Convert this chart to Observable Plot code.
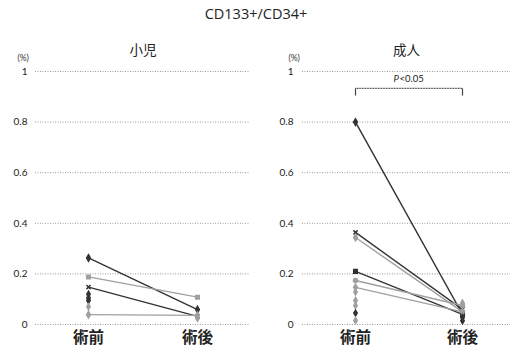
<!DOCTYPE html>
<html><head><meta charset="utf-8">
<script src="https://cdn.jsdelivr.net/npm/d3@7"></script>
<script src="https://cdn.jsdelivr.net/npm/@observablehq/plot@0.6"></script>
<style>
body{margin:0;background:#fff;width:512px;height:353px;overflow:hidden;font-family:Lato,"Noto Sans CJK JP",sans-serif;}
#title{height:28px;line-height:28px;text-align:center;font-size:14.5px;color:#222;font-family:"Open Sans","Noto Sans CJK JP",sans-serif;}
#row{display:flex;}
</style></head>
<body>
<div id="title">CD133+/CD34+</div>
<div id="row"></div>
<script>
const cats = ["術前", "術後"];
const yTicks = [0, 0.2, 0.4, 0.6, 0.8, 1];

// 小児 (children)
const childPre  = [0.263, 0.188, 0.148, 0.039];
const childPost = [0.059, 0.108, 0.032, 0.036];
const childTone = ["dark", "gray", "dark", "gray"];
const childSym  = ["diamond", "square", "times", "diamond"];
const childPreOnly  = [0.12, 0.105, 0.095, 0.07];
const childPreOnlyTone = ["dark", "dark", "dark", "gray"];
const childPostOnly = [0.025];
const childPostOnlyTone = ["gray"];

// 成人 (adults)
const adultPre  = [0.80, 0.364, 0.344, 0.21, 0.174, 0.147];
const adultPost = [0.040, 0.060, 0.050, 0.040, 0.075, 0.050];
const adultTone = ["dark", "dark", "gray", "dark", "gray", "gray"];
const adultSym  = ["diamond", "times", "diamond", "square", "circle", "diamond"];
const adultPreOnly  = [0.128, 0.095, 0.075, 0.045, 0.016];
const adultPreOnlyTone = ["gray", "gray", "gray", "dark", "gray"];
const adultPostOnly = [0.085, 0.028, 0.015];
const adultPostOnlyTone = ["gray", "dark", "dark"];

const sig = {label: "P<0.05", y: 0.933, tickEnd: 0.905, textY: 0.972};

const toneColor = {dark: "#333", gray: "#a0a0a0"};

function panel(name, pre, post, tone, sym, preOnly, preOnlyTone, postOnly, postOnlyTone, o) {
  const pts = [];
  pre.forEach((v, i) => {
    pts.push({id: i, x: cats[0], y: v, c: toneColor[tone[i]], s: sym[i]});
    pts.push({id: i, x: cats[1], y: post[i], c: toneColor[tone[i]], s: sym[i]});
  });
  const singles = [
    ...preOnly.map((v, i) => ({x: cats[0], y: v, c: toneColor[preOnlyTone[i]]})),
    ...postOnly.map((v, i) => ({x: cats[1], y: v, c: toneColor[postOnlyTone[i]]}))
  ];
  const marks = [
    Plot.ruleY(yTicks, {stroke: "#9a9a9a", strokeDasharray: "1,1.5", strokeWidth: 1}),
    Plot.ruleX([0], {x: () => null, frameAnchor: "left", stroke: "#9a9a9a", strokeDasharray: "1,1.5"}),
    Plot.line(pts, {x: "x", y: "y", z: "id", stroke: "c", strokeWidth: 1.4}),
    Plot.dot(pts, {x: "x", y: "y", fill: "c", stroke: "c", symbol: "s", r: 2}),
    Plot.dot(singles, {x: "x", y: "y", fill: "c", stroke: "c", symbol: "diamond", r: 1.8}),
    Plot.text([name], {text: d => d, frameAnchor: "top", dy: -26, fontSize: 13.5, fill: "#222", fontFamily: "Noto Sans CJK JP"}),
    Plot.text(["(%)"], {text: d => d, frameAnchor: "top-left", dx: o.pctDx, dy: -17, fontSize: 8.5, fill: "#333"})
  ];
  if (o.sig) {
    marks.push(
      Plot.link([sig], {x1: () => cats[0], x2: () => cats[1], y1: "y", y2: "y", stroke: "#444", strokeWidth: 1.2, strokeDasharray: "1,0.6"}),
      Plot.link(cats.map(c => ({x: c})), {x1: "x", x2: "x", y1: () => sig.y, y2: () => sig.tickEnd, stroke: "#444", strokeWidth: 1.2}),
      Plot.text([sig], {x: () => cats[0], y: "textY", text: () => "P", dx: 38, fontStyle: "italic", fontSize: 9.5, textAnchor: "start", fill: "#222"}),
      Plot.text([sig], {x: () => cats[0], y: "textY", text: () => "<0.05", dx: 44, fontSize: 9.5, textAnchor: "start", fill: "#222"})
    );
  }
  return Plot.plot({
    width: 256, height: 325,
    marginTop: 43, marginBottom: 29, marginLeft: o.ml, marginRight: o.mr,
    style: {fontFamily: "Lato, sans-serif", background: "#fff", color: "#222"},
    x: {type: "point", domain: cats, range: o.xr, padding: 0, axis: null},
    y: {domain: [0, 1], ticks: yTicks, tickFormat: d => String(d), tickSize: 0, tickPadding: o.tp, label: null, fontSize: 10},
    marks: [
      ...marks,
      Plot.axisY({ticks: yTicks, tickFormat: d => String(d), tickSize: 0, tickPadding: o.tp, fontSize: 10, label: null}),
      Plot.axisX({domain: cats, tickSize: 0, tickPadding: 7, fontSize: 15.5, fontFamily: "Noto Sans CJK JP", label: null, fontWeight: "bold", fill: "#222"})
    ]
  });
}

const row = document.getElementById("row");
row.appendChild(panel("小児", childPre, childPost, childTone, childSym, childPreOnly, childPreOnlyTone, childPostOnly, childPostOnlyTone,
  {ml: 35, mr: 6, xr: [88, 197], tp: 8, pctDx: -18, sig: false}));
row.appendChild(panel("成人", adultPre, adultPost, adultTone, adultSym, adultPreOnly, adultPreOnlyTone, adultPostOnly, adultPostOnlyTone,
  {ml: 46, mr: 2, xr: [99, 206], tp: 9, pctDx: -14, sig: true}));
</script>
</body></html>
